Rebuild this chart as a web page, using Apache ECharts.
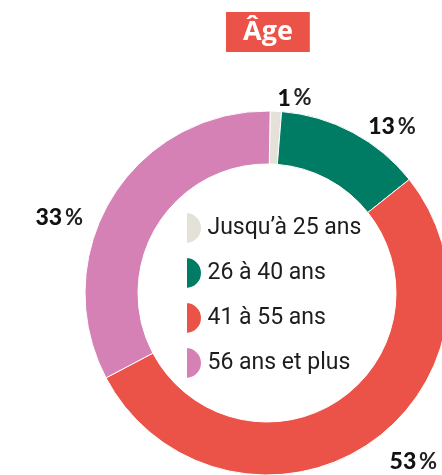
<!DOCTYPE html>
<html>
<head>
<meta charset="utf-8">
<script src="https://cdn.jsdelivr.net/npm/echarts@6/dist/echarts.min.js"></script>
<style>
  html, body { margin: 0; padding: 0; background: #fff; }
  #chart { width: 442px; height: 475px; }
</style>
</head>
<body>
<div id="chart"></div>
<script>
// Age groups and their share (%)
const categories = ['Jusqu\u2019à 25 ans', '26 à 40 ans', '41 à 55 ans', '56 ans et plus'];
const shares = [1, 13, 53, 33];
const colors = ['#E4E1D9', '#007C64', '#EC5348', '#D581B5'];

// per-slice label line lengths and small label nudges
const lineLen = [13, 6, 20, 0];
const lineLen2 = [0, 8, 7, 24];
const labelNudge = [[-4, 0], [0, 0], [0, 0], [0, 20]];

const chart = echarts.init(document.getElementById('chart'), null, { renderer: 'canvas' });

const halfDisc = 'path://M0,0 A16,16 0 0 1 0,32 Z';

chart.setOption({
  animation: false,
  title: {
    text: 'Âge',
    left: 226,
    top: 12,
    backgroundColor: '#EC5348',
    padding: [6, 17, 6, 17],
    textStyle: {
      color: '#fff',
      fontFamily: 'Open Sans',
      fontWeight: 'bold',
      fontSize: 27,
      lineHeight: 28
    }
  },
  legend: {
    orient: 'vertical',
    left: 180,
    top: 206,
    padding: 5,
    itemWidth: 17,
    itemHeight: 32,
    itemGap: 11,
    selectedMode: false,
    icon: halfDisc,
    data: categories,
    textStyle: {
      color: '#1d1d1b',
      fontFamily: 'Roboto',
      fontSize: 23
    }
  },
  series: [{
    type: 'pie',
    center: [267, 293],
    radius: [129, 182],
    startAngle: 89,
    clockwise: true,
    avoidLabelOverlap: false,
    itemStyle: { borderColor: '#fff', borderWidth: 1 },
    label: {
      show: true,
      position: 'outside',
      distanceToLabelLine: 5,
      formatter: p => '{v|' + p.value + '}{p|\u2009%}',
      rich: {
        v: { fontFamily: 'Lato', fontWeight: 900, fontSize: 23, color: '#111' },
        p: { fontFamily: 'Lato', fontWeight: 'bold', fontSize: 22, color: '#222' }
      }
    },
    labelLine: { show: false },
    labelLayout: params => ({ dx: labelNudge[params.dataIndex][0], dy: labelNudge[params.dataIndex][1] }),
    emphasis: { disabled: true },
    data: categories.map((name, i) => ({
      name: name,
      value: shares[i],
      itemStyle: { color: colors[i] },
      labelLine: { show: false, length: lineLen[i], length2: lineLen2[i] }
    }))
  }]
});
</script>
</body>
</html>
